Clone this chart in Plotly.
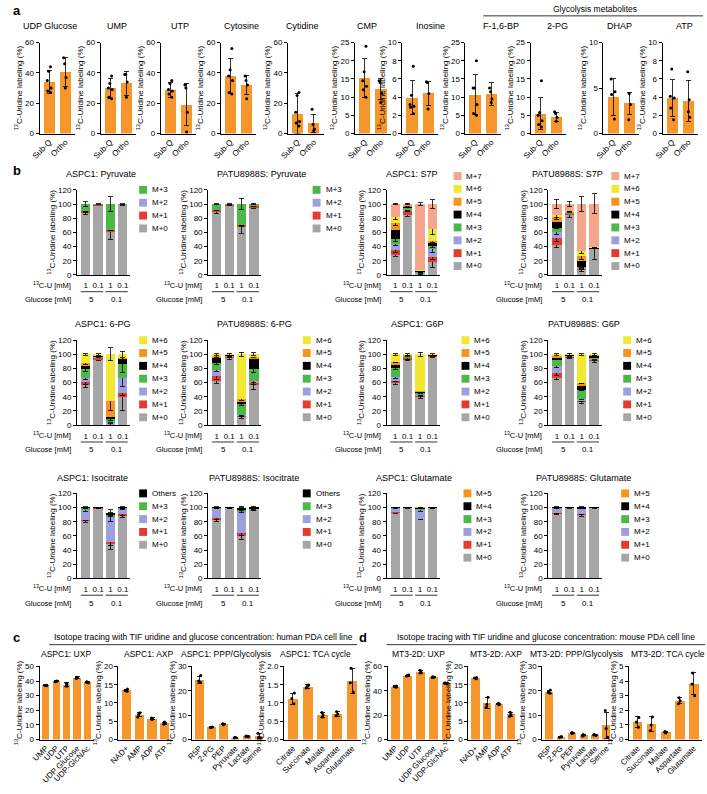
import plotly.graph_objects as go

W, H = 707, 794
FONT = "Arial, Liberation Sans, sans-serif"
ORANGE = "#f6962b"
YTITLE = "<sup>13</sup>C-Uridine labeling (%)"

# ---------------- panel a: in vivo labeling ----------------
a_names = ["UDP Glucose", "UMP", "UTP", "Cytosine", "Cytidine", "CMP", "Inosine",
           "F-1,6-BP", "2-PG", "DHAP", "ATP"]
a_groups = ["Sub-Q", "Ortho"]
a_mean = [[34.0, 40.5], [29.8, 33.0], [28.8, 19.0], [38.2, 32.0], [13.2, 6.8], [15.2, 12.3],
          [3.95, 4.4], [10.6, 10.8], [5.5, 4.6], [4.0, 3.3], [3.9, 3.6]]
a_sd = [[7.5, 9.5], [6.5, 8.0], [5.0, 14.0], [11.5, 6.5], [13.0, 6.0], [5.3, 2.9],
        [1.85, 1.3], [5.5, 3.1], [4.3, 1.3], [2.0, 1.2], [2.0, 2.25]]
a_subq_pts = [[44, 41, 35, 30, 28, 27], [38, 33, 30, 29, 24, 23], [35, 33, 29, 28, 26, 24],
              [56, 42, 38, 35, 27, 26], [27, 25, 14, 8, 7, 5], [24, 17, 14.5, 13, 12, 10],
              [7.4, 4.2, 3.2, 3.0, 2.9, 2.2], [20, 12.5, 12.5, 8, 5.5, 5],
              [14.5, 5.8, 5.0, 3.5, 2.5, 1.8], [6.0, 4.6, 4.3, 1.6], [7.1, 4.1, 3.9, 2.8, 1.5]]
a_ortho_pts = [[50, 46, 37, 30], [39, 39, 34, 24], [32, 30, 14, 1], [38, 35, 32, 23],
               [16, 6, 3, 2], [14.5, 14, 11, 8.5], [5.7, 5.6, 4.4, 2.7], [12.5, 11.5, 9.5, 8.5],
               [6.0, 5.5, 4.5, 3.4], [4.4, 3.2, 1.5], [6.8, 3.7, 2.4, 1.8]]
a_ymax = [60, 60, 60, 60, 60, 25, 10, 25, 25, 10, 10]
a_dtick = [20, 20, 20, 20, 20, 5, 2, 5, 5, 5, 2]

# ---------------- panel b: isotopologue distributions ----------------
iso_colors = {"M+0": "#a6a6a6", "M+1": "#e53a2e", "M+2": "#9d9fde", "M+3": "#4cb848",
              "M+4": "#000000", "M+5": "#f7931e", "M+6": "#f3e831", "M+7": "#f5a58c",
              "Others": "#000000"}
b_uridine = ["1", "0.1", "1", "0.1"]
b_glucose = ["5", "0.1"]

aspc1_pyr = {"M+0": [88, 98.5, 61, 99], "M+1": [2, 1, 2, 0.6], "M+2": [0, 0, 0, 0],
             "M+3": [10, 0.5, 37, 0.4]}
aspc1_pyr_err = {"M+0": [3, 0.4, 11, 0.4], "M+1": [1.5, 0.5, 1, 0.4], "M+3": [3, 0.5, 10, 0.5]}
patu_pyr = {"M+0": [89, 98, 68, 96], "M+1": [3, 1, 2, 2], "M+2": [0, 0, 0, 0],
            "M+3": [8, 1, 30, 2]}
patu_pyr_err = {"M+0": [2.5, 0.5, 10, 2], "M+1": [1.5, 0.5, 1, 1], "M+3": [0.5, 0.5, 8, 1]}

aspc1_s7p = {"M+0": [28, 85, 2, 18], "M+1": [7, 6, 0.5, 7], "M+2": [9, 1, 0.5, 11],
             "M+3": [6, 4, 0.5, 5], "M+4": [13, 1, 3, 4], "M+5": [10, 0.6, 0.5, 3],
             "M+6": [8, 0.4, 0.5, 17], "M+7": [19, 2, 92.5, 35]}
aspc1_s7p_err = {"M+0": [2, 2, 1, 7], "M+1": [3, 2, 0.5, 3], "M+2": [3, 0.5, 0.5, 5],
                 "M+3": [3, 1, 0.5, 3], "M+4": [4, 0.5, 2, 3], "M+5": [3, 0.5, 0.5, 2],
                 "M+6": [3, 0.5, 0.5, 8], "M+7": [1, 1, 1.5, 6]}
patu_s7p = {"M+0": [42, 85, 8, 37], "M+1": [10, 2, 1, 0.5], "M+2": [8, 0.5, 1, 0.3],
            "M+3": [6, 0.5, 1, 0.3], "M+4": [8, 0.5, 8, 0.3], "M+5": [7, 0.5, 7, 0.3],
            "M+6": [3, 0.5, 8, 0.3], "M+7": [16, 10.5, 66, 61.3]}
patu_s7p_err = {"M+0": [4, 4, 3, 15], "M+1": [5, 1, 1, 0], "M+2": [3, 0.5, 0.5, 0],
                "M+4": [3, 0.5, 4, 0], "M+5": [3, 0.5, 4, 0], "M+6": [3, 0.5, 4, 0],
                "M+7": [7, 4, 10, 14]}

aspc1_6pg = {"M+0": [57, 92, 3, 40], "M+1": [4, 4, 1, 5], "M+2": [6, 0.5, 1, 22],
             "M+3": [12, 0.5, 4, 20], "M+4": [5, 1, 3, 7], "M+5": [4, 0.5, 22, 1],
             "M+6": [12, 1.5, 66, 5]}
aspc1_6pg_err = {"M+0": [4, 1, 3, 20], "M+1": [3, 1, 1, 3], "M+2": [3, 0.5, 1, 13],
                 "M+3": [3, 0.5, 2, 13], "M+4": [2, 1, 2, 3], "M+5": [2, 0.5, 14, 2],
                 "M+6": [1, 1, 9, 4]}
patu_6pg = {"M+0": [62, 95, 12, 56], "M+1": [8, 2, 1, 3], "M+2": [8, 0.5, 1, 4],
            "M+3": [10, 0.5, 16, 16], "M+4": [8, 1, 2, 15], "M+5": [1, 0.5, 5, 2],
            "M+6": [3, 0.5, 63, 4]}
patu_6pg_err = {"M+0": [3, 2, 2, 6], "M+1": [5, 1, 1, 2], "M+2": [2, 0.5, 1, 3],
                "M+3": [2, 0.5, 2, 4], "M+4": [2, 1, 1, 3], "M+5": [1, 0.5, 2, 1],
                "M+6": [1, 1, 3, 2]}

aspc1_g6p = {"M+0": [59, 92, 40, 97], "M+1": [4, 3, 1, 1], "M+2": [5, 0.5, 1, 0.4],
             "M+3": [12, 2, 4, 0.4], "M+4": [5, 1, 2, 0.4], "M+5": [4, 0.5, 0.5, 0.4],
             "M+6": [11, 1, 51.5, 0.4]}
aspc1_g6p_err = {"M+0": [2, 1, 2, 1], "M+1": [2, 2, 1, 1], "M+2": [2, 0.5, 0.5, 0],
                 "M+3": [2, 1, 1, 0], "M+4": [2, 0.5, 1, 0], "M+6": [1, 1, 3, 1]}
patu_g6p = {"M+0": [66, 95, 32, 90], "M+1": [8, 2, 3, 3], "M+2": [9, 0.5, 2, 1],
            "M+3": [9, 0.5, 12, 1], "M+4": [4, 1, 6, 3], "M+5": [2, 0.5, 4, 1],
            "M+6": [2, 0.5, 41, 1]}
patu_g6p_err = {"M+0": [2, 1, 2, 2], "M+1": [4, 1, 2, 2], "M+2": [2, 0.5, 1, 1],
                "M+4": [2, 1, 2, 2], "M+6": [1, 1, 1, 1]}

aspc1_iso = {"M+0": [81, 98.6, 48, 88], "M+1": [2, 0.5, 3, 3], "M+2": [14, 0.5, 35, 7],
             "M+3": [2, 0.2, 4, 1], "Others": [1, 0.2, 3, 1]}
aspc1_iso_err = {"M+0": [2, 0.5, 7, 2], "M+1": [1, 0.5, 5, 2], "M+2": [2, 0.5, 5, 1],
                 "M+3": [1, 0, 3, 1], "Others": [1, 0.5, 4, 1]}
patu_iso = {"M+0": [82, 99, 60, 96.5], "M+1": [3, 0.3, 4, 0.5], "M+2": [13, 0.3, 30, 1],
            "M+3": [1, 0.2, 3, 0.5], "Others": [1, 0.2, 1, 1.5]}
patu_iso_err = {"M+0": [2, 0.3, 5, 1], "M+1": [2, 0.3, 3, 1], "M+3": [1, 0.3, 4, 1],
                "Others": [1, 0.5, 2, 2]}

aspc1_glu = {"M+0": [93, 99.5, 84, 99], "M+1": [1, 0.2, 0.5, 0.3], "M+2": [5, 0.2, 12, 0.3],
             "M+3": [0.5, 0.05, 1.5, 0.2], "M+4": [0.5, 0.05, 1.5, 0.2], "M+5": [0, 0, 0.5, 0]}
aspc1_glu_err = {"M+0": [1, 0.2, 1, 0.3], "M+2": [1, 0.2, 2, 0.3], "M+4": [0.5, 0, 1, 0.3]}
patu_glu = {"M+0": [91, 99.5, 89, 99.5], "M+1": [2, 0.2, 2, 0.2], "M+2": [5, 0.2, 7, 0.2],
            "M+3": [1, 0.05, 0.5, 0.05], "M+4": [1, 0.05, 1.5, 0.05], "M+5": [0, 0, 0, 0]}
patu_glu_err = {"M+0": [1, 0.2, 1, 0.2], "M+1": [1, 0.2, 1, 0.2], "M+4": [1, 0.3, 1, 0.3]}

b_rows = [
    [("ASPC1: Pyruvate", aspc1_pyr, aspc1_pyr_err), ("PATU8988S: Pyruvate", patu_pyr, patu_pyr_err),
     ("ASPC1: S7P", aspc1_s7p, aspc1_s7p_err), ("PATU8988S: S7P", patu_s7p, patu_s7p_err)],
    [("ASPC1: 6-PG", aspc1_6pg, aspc1_6pg_err), ("PATU8988S: 6-PG", patu_6pg, patu_6pg_err),
     ("ASPC1: G6P", aspc1_g6p, aspc1_g6p_err), ("PATU8988S: G6P", patu_g6p, patu_g6p_err)],
    [("ASPC1: Isocitrate", aspc1_iso, aspc1_iso_err), ("PATU8988S: Isocitrate", patu_iso, patu_iso_err),
     ("ASPC1: Glutamate", aspc1_glu, aspc1_glu_err), ("PATU8988S: Glutamate", patu_glu, patu_glu_err)],
]

# ---------------- panels c / d: TIF uridine tracing ----------------
uxp_labels = ["UMP", "UDP", "UTP", "UDP Glucose", "UDP-GlcNAc"]
axp_labels = ["NAD+", "AMP", "ADP", "ATP"]
ppp_labels = ["R5P", "2-PG", "PEP", "Pyruvate", "Lactate", "Serine"]
tca_labels = ["Citrate", "Succinate", "Malate", "Aspartate", "Glutamate"]

c_uxp_mean = [37.0, 39.8, 37.6, 42.2, 39.2]
c_uxp_sd = [0.3, 0.4, 1.2, 0.6, 0.4]
c_uxp_pts = [[36.8, 37.0, 37.2], [39.5, 39.9, 40.0], [36.5, 38.0, 38.3], [41.7, 42.3, 42.6], [38.9, 39.2, 39.5]]
c_axp_mean = [13.5, 6.8, 5.7, 4.5]
c_axp_sd = [0.3, 0.6, 0.2, 0.3]
c_axp_pts = [[13.2, 13.5, 13.8], [6.2, 6.9, 7.3], [5.5, 5.7, 5.9], [4.2, 4.5, 4.8]]
c_ppp_mean = [24.5, 5.0, 6.3, 0.8, 1.4, 1.4]
c_ppp_sd = [1.5, 0.2, 0.2, 0.2, 0.2, 1.1]
c_ppp_pts = [[23.5, 24.0, 26.3], [4.9, 5.0, 5.2], [6.1, 6.3, 6.5], [0.6, 0.8, 1.0], [1.2, 1.4, 1.5], [0.6, 1.0, 2.6]]
c_tca_mean = [1.12, 1.45, 0.68, 0.70, 1.60]
c_tca_sd = [0.15, 0.05, 0.07, 0.06, 0.35]
c_tca_pts = [[0.98, 1.12, 1.27], [1.41, 1.46, 1.49], [0.62, 0.68, 0.74], [0.65, 0.70, 0.76], [1.30, 1.55, 1.95]]

d_uxp_mean = [43.5, 52.5, 55.5, 51.2, 46.2]
d_uxp_sd = [0.5, 0.4, 1.3, 0.3, 0.4]
d_uxp_pts = [[43.0, 43.6, 44.0], [52.1, 52.6, 52.9], [54.5, 55.3, 56.8], [50.9, 51.2, 51.5], [45.8, 46.2, 46.6]]
d_axp_mean = [16.8, 10.0, 9.7, 6.9]
d_axp_sd = [0.2, 1.5, 0.2, 0.6]
d_axp_pts = [[16.6, 16.8, 17.0], [8.8, 9.6, 11.6], [9.5, 9.7, 9.9], [6.4, 6.8, 7.5]]
d_ppp_mean = [19.6, 1.1, 2.7, 1.8, 1.9, 5.8]
d_ppp_sd = [0.7, 0.2, 0.2, 0.3, 0.2, 5.5]
d_ppp_pts = [[19.0, 19.5, 20.3], [0.9, 1.1, 1.3], [2.5, 2.7, 2.9], [1.5, 1.8, 2.1], [1.7, 1.9, 2.1], [1.0, 4.5, 11.9]]
d_tca_mean = [1.2, 1.05, 0.5, 2.65, 3.8]
d_tca_sd = [0.35, 0.5, 0.05, 0.2, 0.75]
d_tca_pts = [[0.85, 1.2, 1.5], [0.6, 1.0, 1.55], [0.45, 0.5, 0.55], [2.45, 2.65, 2.85], [3.0, 3.8, 4.55]]

c_panels = [("ASPC1: UXP", uxp_labels, c_uxp_mean, c_uxp_sd, c_uxp_pts, 50, 10, None),
            ("ASPC1: AXP", axp_labels, c_axp_mean, c_axp_sd, c_axp_pts, 20, 5, None),
            ("ASPC1: PPP/Glycolysis", ppp_labels, c_ppp_mean, c_ppp_sd, c_ppp_pts, 30, 10, None),
            ("ASPC1: TCA cycle", tca_labels, c_tca_mean, c_tca_sd, c_tca_pts, 2.0, 0.5, ".1f")]
d_panels = [("MT3-2D: UXP", uxp_labels, d_uxp_mean, d_uxp_sd, d_uxp_pts, 60, 20, None),
            ("MT3-2D: AXP", axp_labels, d_axp_mean, d_axp_sd, d_axp_pts, 20, 5, None),
            ("MT3-2D: PPP/Glycolysis", ppp_labels, d_ppp_mean, d_ppp_sd, d_ppp_pts, 30, 10, None),
            ("MT3-2D: TCA cycle", tca_labels, d_tca_mean, d_tca_sd, d_tca_pts, 5, 1, None)]

# ---------------- layout helpers (pixel positions) ----------------
fig = go.Figure()
layout = {}
annotations = []
shapes = []
count = [0]


def text(x, y, s, size=8, anchor="center", bold=False):
    if bold:
        s = "<b>" + s + "</b>"
    annotations.append(dict(x=x / W, y=1 - y / H, xref="paper", yref="paper", text=s,
                            showarrow=False, xanchor=anchor, yanchor="middle",
                            font=dict(size=size, color="black", family=FONT)))


def hline(x0, x1, y, width=0.8):
    shapes.append(dict(type="line", xref="paper", yref="paper", x0=x0 / W, x1=x1 / W,
                       y0=1 - y / H, y1=1 - y / H, line=dict(color="black", width=width)))


def new_axes(x0, x1, y0, y1, ymax, dtick, fmt=None):
    count[0] += 1
    k = "" if count[0] == 1 else str(count[0])
    layout["xaxis" + k] = dict(domain=[x0 / W, x1 / W], anchor="y" + k, showline=True,
                               linecolor="black", linewidth=1, showgrid=False, zeroline=False,
                               ticks="", tickfont=dict(size=8, color="black"), fixedrange=True)
    ya = dict(domain=[1 - y1 / H, 1 - y0 / H], anchor="x" + k, range=[0, ymax], dtick=dtick,
              tick0=0, showline=True, linecolor="black", linewidth=1, ticks="outside", ticklen=3,
              tickwidth=1, tickcolor="black", showgrid=False, zeroline=False,
              tickfont=dict(size=8, color="black"), fixedrange=True,
              title=dict(text=YTITLE, font=dict(size=8, color="black"), standoff=1))
    if fmt:
        ya["tickformat"] = fmt
    layout["yaxis" + k] = ya
    return "x" + k, "y" + k, "xaxis" + k


def bars_with_points(xn, yn, labels, mean, sd, pts_list, jitter):
    fig.add_trace(go.Bar(x=labels, y=mean, width=0.7, marker=dict(color=ORANGE, line=dict(width=0)),
                         error_y=dict(type="data", array=sd, color="black", thickness=0.8, width=2.5),
                         xaxis=xn, yaxis=yn, showlegend=False, hoverinfo="skip"))
    xs, ys = [], []
    for lab, pts in zip(labels, pts_list):
        xs += [lab] * len(pts)
        ys += pts
    fig.add_trace(go.Box(x=xs, y=ys, boxpoints="all", jitter=jitter, pointpos=0,
                         fillcolor="rgba(0,0,0,0)", line=dict(width=0, color="rgba(0,0,0,0)"),
                         marker=dict(color="black", size=3), xaxis=xn, yaxis=yn,
                         showlegend=False, hoverinfo="skip"))


# ---------------- panel a ----------------
text(1, 7, "a", size=13, anchor="left", bold=True)
a_left = [30, 92, 153, 214, 282, 350, 398, 462, 528, 602, 662]
a_title_x = [41, 109, 172, 235, 297, 362, 427, 498, 555, 618, 684]
for i, name in enumerate(a_names):
    xn, yn, xa = new_axes(a_left[i], a_left[i] + 36, 39, 131, a_ymax[i], a_dtick[i])
    layout[xa].update(range=[-0.6, 1.6], tickangle=-45, type="category")
    bars_with_points(xn, yn, a_groups, a_mean[i], a_sd[i], [a_subq_pts[i], a_ortho_pts[i]], 0.6)
    text(a_title_x[i], 22, name, size=9)
text(593, 5, "Glycolysis metabolites", size=8.5)
hline(480, 703, 12)

# ---------------- panel b ----------------
b_T = [172, 324, 479]
b_left = [68, 201, 382, 546]
b_title_x = [[92, 255, 408, 566], [94, 248, 413, 582], [84, 248, 410, 582]]
b_leg_x = [[131, 307, 450, 610], [131, 297, 458, 622], [131, 297, 460, 620]]
text(1, b_T[0] - 4, "b", size=13, anchor="left", bold=True)
for r, row in enumerate(b_rows):
    T = b_T[r]
    for c, (title, data, errs) in enumerate(row):
        x0 = b_left[c]
        xn, yn, xa = new_axes(x0, x0 + 54, T + 16, T + 102, 120, 20)
        layout[xa].update(range=[-0.7, 3.6], tickvals=list(range(len(b_uridine))),
                          ticktext=b_uridine, ticklabelstandoff=3)
        keys = list(data.keys())
        for key in keys:
            err = errs.get(key, [0] * len(b_uridine))
            fig.add_trace(go.Bar(x=list(range(len(b_uridine))), y=data[key], width=0.75,
                                 marker=dict(color=iso_colors[key], line=dict(width=0)),
                                 error_y=dict(type="data", array=err, color="black",
                                              thickness=0.8, width=2.5),
                                 xaxis=xn, yaxis=yn, showlegend=False, hoverinfo="skip"))
        text(b_title_x[r][c], T, title, size=9)
        # x-axis condition labels
        text(x0 - 4, T + 112, "<sup>13</sup>C-U [mM]", size=7.5, anchor="right")
        text(x0 - 4, T + 127, "Glucose [mM]", size=7.5, anchor="right")
        for g, lab in enumerate(b_glucose):
            shapes.append(dict(type="line", xref=xn, yref="paper", x0=2 * g - 0.4, x1=2 * g + 1.4,
                               y0=1 - (T + 119) / H, y1=1 - (T + 119) / H,
                               line=dict(color="black", width=0.8)))
            annotations.append(dict(x=2 * g + 0.5, y=1 - (T + 127) / H, xref=xn, yref="paper",
                                    text=lab, showarrow=False, yanchor="middle",
                                    font=dict(size=8, color="black", family=FONT)))
        # legend (top = highest isotopologue)
        ly = T + 2 if len(keys) == 8 else T + 16
        lx = b_leg_x[r][c]
        for j, key in enumerate(reversed(keys)):
            yy = ly + 13 * j
            shapes.append(dict(type="rect", xref="paper", yref="paper", x0=lx / W, x1=(lx + 8) / W,
                               y0=1 - (yy + 4) / H, y1=1 - (yy - 4) / H,
                               fillcolor=iso_colors[key], line=dict(width=0)))
            text(lx + 11, yy, key, size=8, anchor="left")

# ---------------- panels c / d ----------------
cd_top, cd_bottom = 670, 744
c_pos = [(30, 85), (110, 165), (185, 260), (278, 356)]
d_pos = [(383, 450), (465, 515), (540, 612), (628, 702)]
c_title_x = [57, 140, 219, 310]
d_title_x = [414, 493, 575, 667]
text(1, 641, "c", size=13, anchor="left", bold=True)
text(352, 641, "d", size=13, anchor="left", bold=True)
text(196, 640, "Isotope tracing with TIF uridine and glucose concentration: human PDA cell line", size=8.5)
text(544, 640, "Isotope tracing with TIF uridine and glucose concentration: mouse PDA cell line", size=8.5)
hline(40, 352, 648)
hline(382, 705, 648)
for panels, pos, tx in [(c_panels, c_pos, c_title_x), (d_panels, d_pos, d_title_x)]:
    for (title, labels, mean, sd, pts, ymax, dtick, fmt), (x0, x1), t in zip(panels, pos, tx):
        xn, yn, xa = new_axes(x0, x1, cd_top, cd_bottom, ymax, dtick, fmt)
        layout[xa].update(range=[-0.6, len(labels) - 0.4], tickangle=-45, type="category")
        bars_with_points(xn, yn, labels, mean, sd, pts, 0.5)
        text(t, 657, title, size=8.5)

fig.update_layout(**layout)
fig.update_layout(width=W, height=H, margin=dict(l=0, r=0, t=0, b=0), barmode="stack",
                  font=dict(family=FONT, color="black"), plot_bgcolor="white",
                  paper_bgcolor="white", showlegend=False, annotations=annotations, shapes=shapes)
fig.write_html("out.html", config={"displayModeBar": False},
               post_script="document.body.style.margin='0px';")
